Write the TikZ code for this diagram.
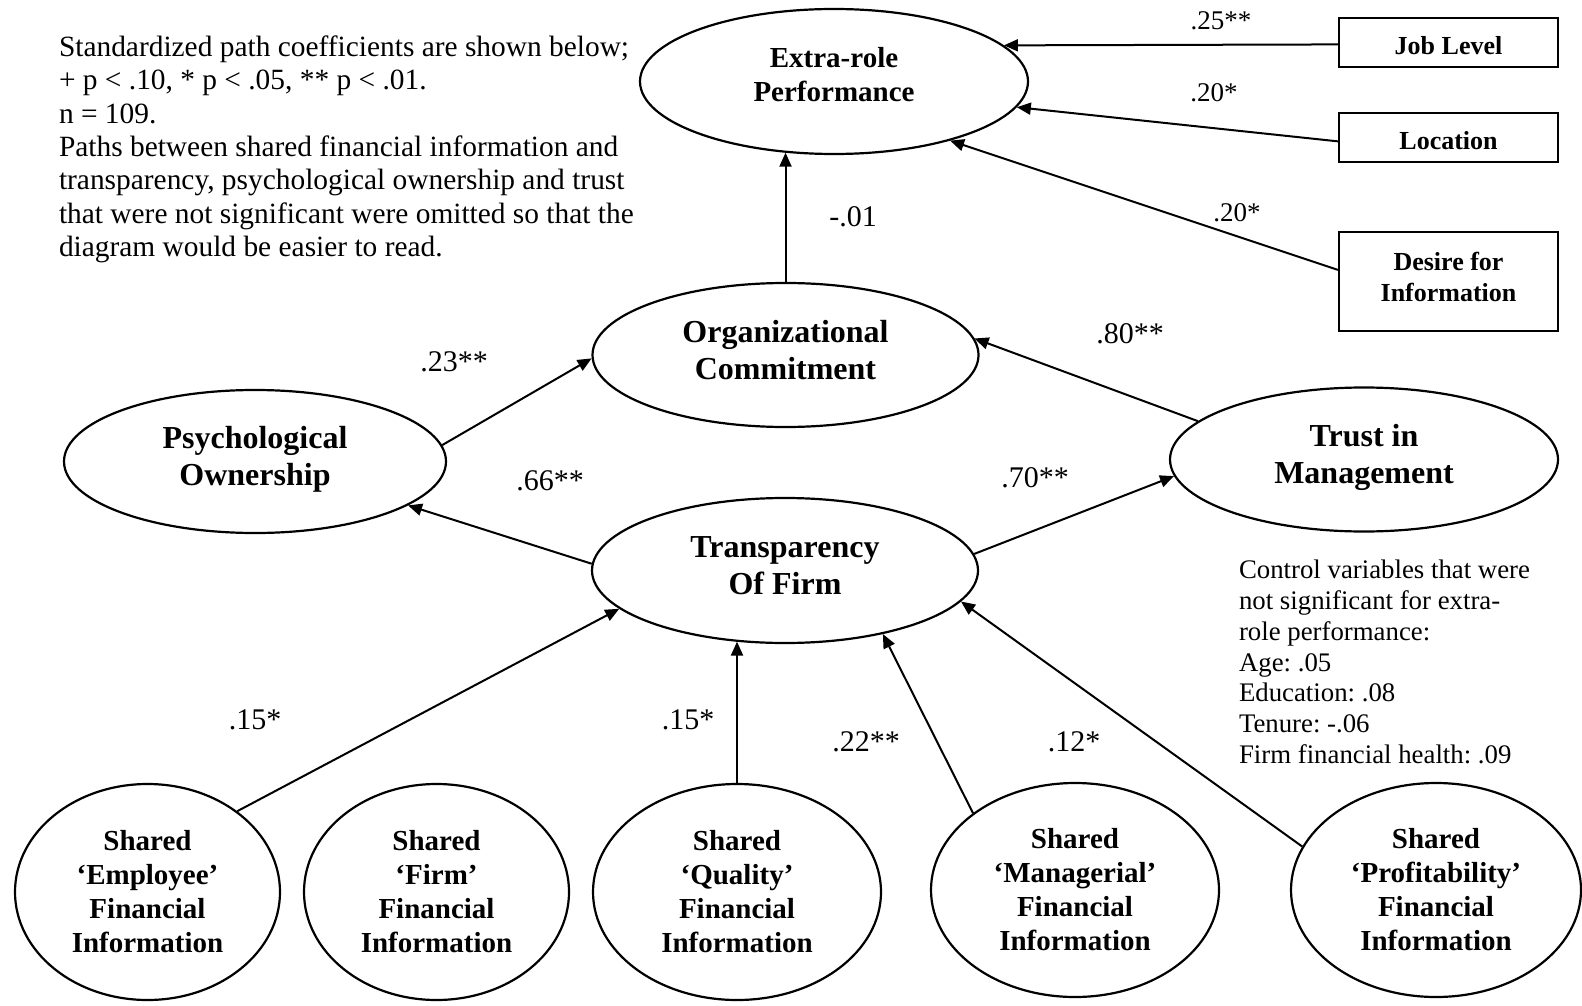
\documentclass[tikz,border=0pt]{standalone}
\usepackage{fontspec}
\setmainfont{Liberation Serif}
\usetikzlibrary{shapes.geometric,arrows.meta}

\begin{document}
\frenchspacing
\begin{tikzpicture}[x=0.5pt,y=-0.5pt,
  line width=1pt,
  path/.style={-{Triangle[length=7pt,width=6pt]}},
  construct/.style={ellipse,draw,line width=1.1pt,inner sep=0pt,align=center,
    font=\bfseries\fontsize{16}{18.7}\selectfont},
  topconstruct/.style={construct,font=\bfseries\fontsize{14.5}{16.7}\selectfont},
  info/.style={construct,font=\bfseries\fontsize{14.5}{17}\selectfont},
  control/.style={rectangle,draw,line width=1.1pt,inner sep=0pt,align=center,
    font=\bfseries\fontsize{13}{15.4}\selectfont},
  coef/.style={inner sep=0pt,font=\fontsize{15}{18}\selectfont},
  smallcoef/.style={inner sep=0pt,font=\fontsize{13.5}{16}\selectfont},
  note/.style={inner sep=0pt,align=left,anchor=north west}
]
\useasboundingbox (0,0) rectangle (1582,1005);

% latent constructs
\node[topconstruct,text depth=7pt,minimum width=194pt,minimum height=72.5pt] (extra) at (834,81.5) {Extra-role\\Performance};
\node[construct,text depth=5pt,minimum width=193pt,minimum height=72pt] (org) at (785.5,355) {Organizational\\Commitment};
\node[construct,text depth=5.5pt,minimum width=191pt,minimum height=71.5pt] (psych) at (255,461.5) {Psychological\\Ownership};
\node[construct,text depth=5.5pt,minimum width=194pt,minimum height=72pt] (trust) at (1364,459.5) {Trust in\\Management};
\node[construct,text depth=5pt,minimum width=193pt,minimum height=72.5pt] (trans) at (785,570.5) {Transparency\\Of Firm};

% shared financial information
\node[info,minimum width=132.5pt,minimum height=108pt] (emp) at (147.5,892) {Shared\\`Employee'\\Financial\\Information};
\node[info,minimum width=132.5pt,minimum height=108pt] (firm) at (436.5,892) {Shared\\`Firm'\\Financial\\Information};
\node[info,minimum width=144pt,minimum height=108pt] (qual) at (737,892) {Shared\\`Quality'\\Financial\\Information};
\node[info,minimum width=144pt,minimum height=107pt] (mgr) at (1075,890) {Shared\\`Managerial'\\Financial\\Information};
\node[info,minimum width=145pt,minimum height=107pt] (prof) at (1436,890) {Shared\\`Profitability'\\Financial\\Information};

% control variables
\node[control,text height=12pt,text depth=0pt,minimum width=109.5pt,minimum height=24.5pt] (job) at (1448.5,42.5) {Job Level};
\node[control,text height=12pt,text depth=0pt,minimum width=109.5pt,minimum height=24.5pt] (loc) at (1448.5,137.5) {Location};
\node[control,text depth=5pt,minimum width=109.5pt,minimum height=49.5pt] (desire) at (1448.5,281.5) {Desire for\\Information};

% paths
\draw[path] (job.181.3) -- (extra.12.3);
\draw[path] (loc.182.9) -- (extra.-8.1);
\draw[path] (desire.174.5) -- (extra.-27.9);
\draw[path] (org.north) -- (org.north |- extra.235.4);
\draw[path] (psych.5.6) -- (org.181);
\draw[path] (trust.167.9) -- (org.5);
\draw[path] (trans.178.3) -- (psych.-16.1);
\draw[path] (trans.5.6) -- (trust.185.1);
\draw[path] (emp.42.5) -- (trans.193.7);
\draw[path] (qual.north) -- (qual.north |- trans.235.6);
\draw[path] (mgr.143.7) -- (trans.-33.2);
\draw[path] (prof.162.3) -- (trans.-10.3);

% coefficients
\node[smallcoef] (c25) at (1221,21) {.25**};
\node[smallcoef] (c20a) at (1214,93) {.20*};
\node[smallcoef] (c20b) at (1237,213) {.20*};
\node[coef] (c01) at (853,217) {-.01};
\node[coef] (c80) at (1130,334) {.80**};
\node[coef] (c23) at (454,362) {.23**};
\node[coef] (c66) at (550,481) {.66**};
\node[coef] (c70) at (1035,478) {.70**};
\node[coef] (c15a) at (255,720) {.15*};
\node[coef] (c15b) at (688,720) {.15*};
\node[coef] (c22) at (866,742) {.22**};
\node[coef] (c12) at (1074,742) {.12*};

% notes
\node[note,font=\fontsize{14.7}{16.65}\selectfont] (legend) at (58,35) {Standardized path coefficients are shown below;\\
+ p < .10, * p < .05, ** p < .01.\\
n = 109.\\
Paths between shared financial information and\\
transparency, psychological ownership and trust\\
that were not significant were omitted so that the\\
diagram would be easier to read.};
\node[note,font=\fontsize{13.4}{15.4}\selectfont] (controls) at (1238,559) {Control variables that were\\
not significant for extra-\\
role performance:\\
Age: .05\\
Education: .08\\
Tenure: -.06\\
Firm financial health: .09};
\end{tikzpicture}
\end{document}
